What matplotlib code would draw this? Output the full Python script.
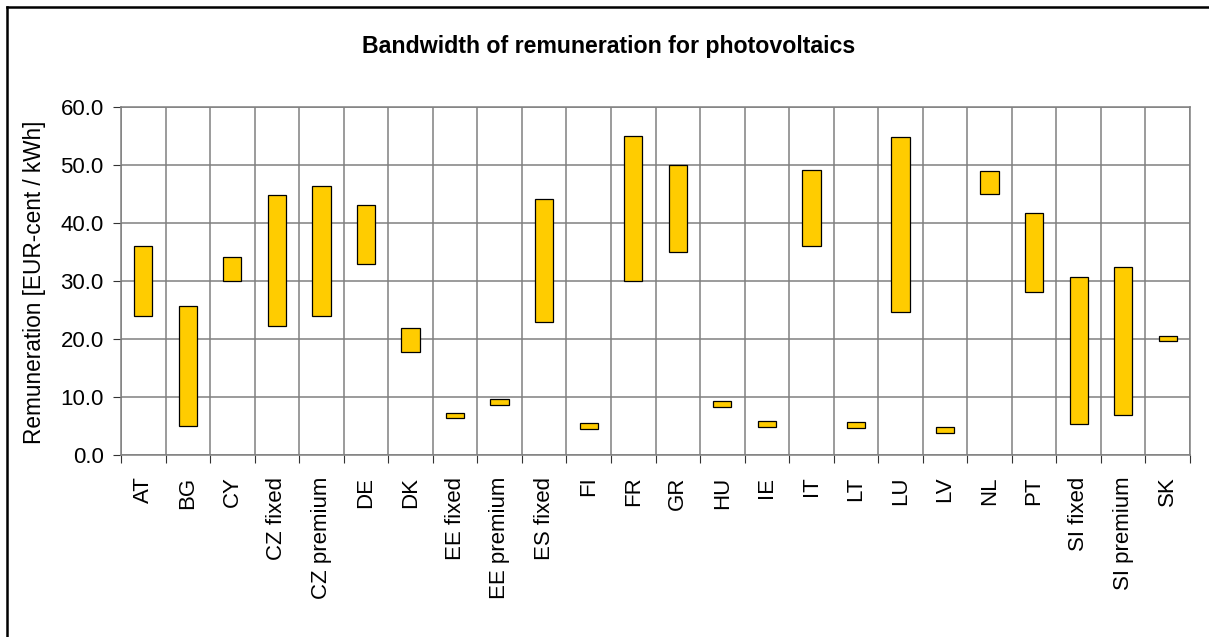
import matplotlib.pyplot as plt
import numpy as np

plt.rcParams['font.family'] = ['Liberation Sans', 'DejaVu Sans']

categories = ['AT', 'BG', 'CY', 'CZ fixed', 'CZ premium', 'DE', 'DK',
              'EE fixed', 'EE premium', 'ES fixed', 'FI', 'FR', 'GR', 'HU',
              'IE', 'IT', 'LT', 'LU', 'LV', 'NL', 'PT', 'SI fixed',
              'SI premium', 'SK']
low = [24.0, 5.0, 30.0, 22.2, 23.9, 33.0, 17.7, 6.3, 8.6, 23.0, 4.5, 30.0,
       35.0, 8.3, 4.8, 36.0, 4.6, 24.6, 3.8, 45.1, 28.1, 5.35, 6.9, 19.6]
high = [36.1, 25.7, 34.2, 44.8, 46.5, 43.1, 22.0, 7.3, 9.7, 44.1, 5.5, 55.1,
        50.1, 9.4, 5.9, 49.1, 5.7, 54.8, 4.8, 49.0, 41.8, 30.7, 32.4, 20.6]
yticks = [0, 10, 20, 30, 40, 50, 60]

W, H = 1209, 637
fig = plt.figure(figsize=(W / 100, H / 100), dpi=100)
ax = fig.add_axes([121 / W, 1 - 455 / H, (1190 - 121) / W, (455 - 107.3) / H])

x = np.arange(len(categories))
low = np.array(low)
high = np.array(high)
ax.bar(x, high - low, bottom=low, width=0.41, color='#FFCC00',
       edgecolor='black', linewidth=0.9, zorder=3)

ax.set_xlim(-0.5, len(categories) - 0.5)
ax.set_ylim(0, 60)
ax.set_yticks(yticks)
ax.set_yticklabels([f'{v:.1f}' for v in yticks], fontsize=16)
ax.set_xticks(x)
ax.set_xticklabels(categories, rotation=90, fontsize=16, va='top', ha='center')
ax.set_xticks(np.arange(len(categories) + 1) - 0.5, minor=True)

ax.tick_params(axis='x', which='major', length=0, pad=15.5)
ax.tick_params(axis='x', which='minor', length=5.5, width=0.8, color='#333333')
ax.tick_params(axis='y', which='major', length=5.5, width=0.8, color='#333333', pad=7)

ax.grid(axis='y', which='major', color='#808080', linewidth=1.1, zorder=0)
ax.grid(axis='x', which='minor', color='#808080', linewidth=1.1, zorder=0)
ax.set_axisbelow(True)
for s in ax.spines.values():
    s.set_color('#808080')
    s.set_linewidth(1.1)

fig.text(609 / W, 1 - 47 / H, 'Bandwidth of remuneration for photovoltaics',
         ha='center', va='center', fontsize=16.7, fontweight='bold')
fig.text(35 / W, 1 - 282 / H, 'Remuneration [EUR-cent / kWh]', rotation=90,
         ha='center', va='center', fontsize=16.3)

# outer frame (only top and left edges visible)
fig.add_artist(plt.Line2D([7 / W, 1.01], [1 - 6.5 / H, 1 - 6.5 / H],
                          transform=fig.transFigure, color='black', linewidth=1.8))
fig.add_artist(plt.Line2D([7 / W, 7 / W], [1 - 6.5 / H, -0.01],
                          transform=fig.transFigure, color='black', linewidth=1.8))

fig.savefig('out.png', dpi=100)
